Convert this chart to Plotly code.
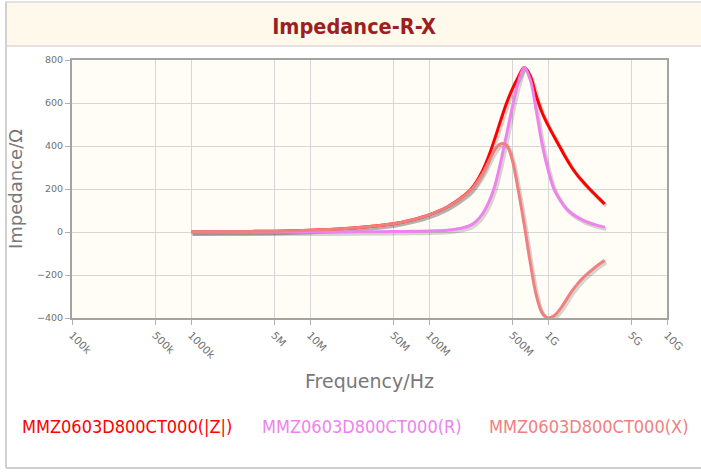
import plotly.graph_objects as go

# ---------------- data ----------------
freq_hz = [1e6, 2e6, 5e6, 1e7, 2e7, 3e7, 5e7, 7e7, 1e8, 1.41e8,
           2.00e8, 2.24e8, 2.51e8, 2.82e8, 3.16e8, 3.55e8, 3.98e8, 4.47e8, 5.01e8,
           5.62e8, 6.31e8, 7.08e8, 7.94e8, 8.91e8, 1.0e9, 1.122e9, 1.259e9, 1.413e9,
           1.585e9, 1.778e9, 1.995e9, 2.239e9, 2.512e9, 2.818e9, 3.0e9]

z_abs = [1, 2, 4, 8, 16, 24, 38, 55, 80, 115,
         172, 198, 235, 285, 350, 430, 515, 598, 665,
         720, 765, 726, 635, 556, 497, 445, 395, 345,
         300, 262, 230, 200, 172, 145, 130]

r_vals = [0, 0, 0, 0.2, 0.5, 1, 2, 3, 5, 8,
          22, 32, 52, 85, 135, 210, 320, 450, 580,
          695, 765, 710, 570, 410, 290, 200, 150, 112,
          86, 68, 53, 42, 33, 26, 22]

x_vals = [1, 2, 4, 8, 16, 24, 38, 55, 80, 115,
          170, 194, 229, 272, 325, 380, 410, 405, 335,
          195, 35, -140, -290, -375, -400, -390, -360, -318,
          -275, -240, -210, -185, -162, -142, -132]

series_names = ["MMZ0603D800CT000(|Z|)", "MMZ0603D800CT000(R)", "MMZ0603D800CT000(X)"]
series_colors = ["#ff0000", "#ee82ee", "#f08080"]

tick_vals = [1e5, 5e5, 1e6, 5e6, 1e7, 5e7, 1e8, 5e8, 1e9, 5e9, 1e10]
tick_text = ["100k", "500k", "1000k", "5M", "10M", "50M", "100M", "500M", "1G", "5G", "10G"]
y_ticks = [-400, -200, 0, 200, 400, 600, 800]

chart_title = "Impedance-R-X"
x_title = "Frequency/Hz"
y_title = "Impedance/Ω"

# ---------------- layout geometry (viewport pixels) ----------------
W, H = 701, 473
PL, PR, PT, PB = 72, 667, 60, 318          # plot box in pixels
L, T = PL, PT
R, B = W - PR, H - PB
PW, PH = PR - PL, PB - PT
X_RANGE = [5, 10]
Y_RANGE = [-400, 800]
px_per_dec = PW / (X_RANGE[1] - X_RANGE[0])
px_per_unit = PH / (Y_RANGE[1] - Y_RANGE[0])
SH_DX, SH_DY = 1.5, 2.0  # shadow offset in pixels


def px(xp):
    return (xp - PL) / PW


def py(yp):
    return (PB - yp) / PH


fig = go.Figure()
all_series = [z_abs, r_vals, x_vals]

# shadows (on base axes shifted by a couple of pixels)
for vals in all_series:
    fig.add_trace(go.Scatter(
        x=freq_hz, y=vals, mode="lines", xaxis="x", yaxis="y",
        line=dict(color="rgba(0,0,0,0.16)", width=4, shape="spline", smoothing=1.0),
        hoverinfo="skip", showlegend=False))

# real lines
for vals, name, col in zip(all_series, series_names, series_colors):
    fig.add_trace(go.Scatter(
        x=freq_hz, y=vals, mode="lines", name=name, xaxis="x2", yaxis="y2",
        line=dict(color=col, width=3, shape="spline", smoothing=1.0),
        showlegend=False))

fig.update_layout(
    template="none",
    width=W, height=H,
    margin=dict(l=L, r=R, t=T, b=B, autoexpand=False),
    paper_bgcolor="#ffffff",
    plot_bgcolor="#fffdf5",
    showlegend=False,
    title=dict(text="<b>" + chart_title + "</b>", x=354 / W, xref="container", xanchor="center",
               y=1 - 26 / H, yref="container", yanchor="middle",
               font=dict(family="DejaVu Sans Condensed, DejaVu Sans", size=21.5, color="#9e1f23")),
    xaxis=dict(type="log", range=[X_RANGE[0] - SH_DX / px_per_dec, X_RANGE[1] - SH_DX / px_per_dec],
               visible=False, showgrid=False, zeroline=False, fixedrange=True),
    yaxis=dict(range=[Y_RANGE[0] + SH_DY / px_per_unit, Y_RANGE[1] + SH_DY / px_per_unit],
               visible=False, showgrid=False, zeroline=False, fixedrange=True),
    xaxis2=dict(type="log", range=X_RANGE, overlaying="x", anchor="y2", side="bottom",
                tickmode="array", tickvals=tick_vals, ticktext=tick_text, tickangle=45,
                ticks="outside", ticklen=5, tickcolor="#b0b0b0", tickwidth=1,
                tickfont=dict(family="DejaVu Sans", size=10.5, color="#707070"),
                showgrid=True, gridcolor="#d6d6d6", gridwidth=1, zeroline=False,
                showline=True, linecolor="#a3a3a3", linewidth=2, mirror=True,
                automargin=False, fixedrange=True,
                title=dict(text=x_title, standoff=14,
                           font=dict(family="DejaVu Sans", size=19, color="#787878"))),
    yaxis2=dict(range=Y_RANGE, overlaying="y", anchor="x2", side="left",
                tickmode="array", tickvals=y_ticks,
                ticks="outside", ticklen=5, tickcolor="#b0b0b0", tickwidth=1,
                tickfont=dict(family="DejaVu Sans", size=9.5, color="#707070"),
                showgrid=True, gridcolor="#d6d6d6", gridwidth=1, zeroline=False,
                showline=True, linecolor="#a3a3a3", linewidth=2, mirror=True,
                automargin=False, fixedrange=True,
                title=dict(text=y_title, standoff=10,
                           font=dict(family="DejaVu Sans", size=18, color="#787878"))),
)

# frame: title band and outer border lines
fig.add_shape(type="rect", xref="paper", yref="paper",
              x0=px(6), x1=px(712), y0=py(46), y1=py(2),
              fillcolor="#fef9ea", line=dict(color="#d9d9d9", width=1.5), layer="below")
fig.add_shape(type="line", xref="paper", yref="paper",
              x0=px(6), x1=px(6), y0=py(2), y1=py(468),
              line=dict(color="#d0d0d0", width=2))
fig.add_shape(type="line", xref="paper", yref="paper",
              x0=px(6), x1=px(712), y0=py(468), y1=py(468),
              line=dict(color="#d0d0d0", width=2))

# legend as coloured text items
legend_x = [20, 260, 487]
for name, col, lx in zip(series_names, series_colors, legend_x):
    fig.add_annotation(text=name, xref="paper", yref="paper", x=px(lx), y=py(426),
                       xanchor="left", yanchor="middle", showarrow=False,
                       font=dict(family="DejaVu Sans Condensed, DejaVu Sans", size=18, color=col))

fig.write_html("out.html", config={"displayModeBar": False},
               post_script="document.body.style.margin='0';")
